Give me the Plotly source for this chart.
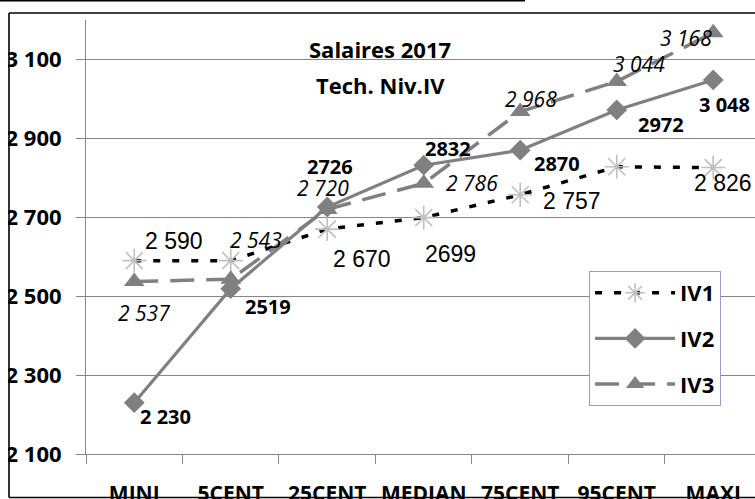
import plotly.graph_objects as go

categories = ["MINI", "5CENT", "25CENT", "MEDIAN", "75CENT", "95CENT", "MAXI"]
iv1 = [2590, 2590, 2670, 2699, 2757, 2828, 2826]
iv2 = [2230, 2519, 2726, 2832, 2870, 2972, 3048]
iv3 = [2537, 2543, 2720, 2786, 2968, 3044, 3168]

iv1_labels = ["2 590", None, "2 670", "2699", "2 757", None, "2 826"]
iv2_labels = ["2 230", "2519", "2726", "2832", "2870", "2972", "3 048"]
iv3_labels = ["2 537", "2 543", "2 720", "2 786", "2 968", "3 044", "3 168"]

# label offsets in pixels (dx, dy with dy positive downward)
iv1_off = [(40, -20), (0, 0), (35, 30), (27, 36), (52, 6), (0, 0), (10, 15)]
iv2_off = [(31, 14), (37, 18), (3, -41), (24, -17), (37, 13), (44, 15), (11, 25)]
iv3_off = [(10, 31), (25, -39), (-4, -21), (48, 0), (11, -13), (22, -18), (-27, 5)]

y_tickvals = [2100, 2300, 2500, 2700, 2900, 3100]
y_ticktext = ["2 100", "2 300", "2 500", "2 700", "2 900", "3 100"]

title_lines = ["Salaires 2017", "Tech. Niv.IV"]

GRAY = "#808080"
GRID = "#868686"

fig = go.Figure()
fig.add_trace(go.Scatter(
    x=categories, y=iv1, name="IV1", mode="lines+markers", legendgroup="a",
    line=dict(color="black", width=3.5, dash="7px,12px"),
    marker=dict(symbol="asterisk-open", size=20, color="#BFBFBF",
                line=dict(color="#BFBFBF", width=1.6)),
))
fig.add_trace(go.Scatter(
    x=categories, y=iv2, name="IV2", mode="lines+markers", legendgroup="b",
    line=dict(color=GRAY, width=3.2),
    marker=dict(symbol="diamond", size=16, color=GRAY),
))
fig.add_trace(go.Scatter(
    x=categories, y=iv3, name="IV3", mode="lines+markers", legendgroup="c",
    line=dict(color=GRAY, width=3.5, dash="24px,12px"),
    marker=dict(symbol="triangle-up", size=18, color=GRAY),
))

annotations = []
specs = [
    (iv1, iv1_labels, iv1_off, dict(family="Liberation Sans", size=23, color="black")),
    (iv2, iv2_labels, iv2_off, dict(family="Open Sans", size=20, color="black", weight="bold")),
    (iv3, iv3_labels, iv3_off, dict(family="Open Sans", size=21, color="black", style="italic")),
]
for vals, labels, offs, font in specs:
    for c, v, lab, (dx, dy) in zip(categories, vals, labels, offs):
        if lab is None:
            continue
        annotations.append(dict(
            x=c, y=v, xref="x", yref="y", text=lab, showarrow=False,
            xshift=dx, yshift=-dy, font=font, xanchor="center", yanchor="middle",
        ))

title_font = dict(family="Open Sans", size=22, color="black", weight="bold")
annotations.append(dict(x=0.4395, y=0.933, xref="paper", yref="paper", text=title_lines[0],
                        showarrow=False, font=title_font, xanchor="center", yanchor="middle"))
annotations.append(dict(x=0.4395, y=0.851, xref="paper", yref="paper", text=title_lines[1],
                        showarrow=False, font=title_font, xanchor="center", yanchor="middle"))


def pline(x0, x1, y0, y1, width=1.6):
    return dict(type="line", xref="paper", yref="paper", xsizemode="pixel", ysizemode="pixel",
                xanchor=0, yanchor=0, x0=x0, x1=x1, y0=y0, y1=y1,
                line=dict(color="black", width=width), layer="above")


shapes = [
    # cover left of border
    dict(type="rect", xref="paper", yref="paper", xsizemode="pixel", ysizemode="pixel",
         xanchor=0, yanchor=0, x0=-90, x1=-77.8, y0=-50, y1=460,
         line=dict(width=0), fillcolor="white", layer="above"),
    # outer chart border
    pline(-77, -77, -43.5, 441),
    pline(-77, 700, 441, 441),
    pline(-77, 700, -43.5, -43.5),
    # top black line
    pline(-90, 439, 453.5, 453.5, width=2),
]

fig.update_layout(
    width=755, height=499,
    margin=dict(l=86, r=0, t=20, b=45, autoexpand=False),
    paper_bgcolor="white", plot_bgcolor="white",
    showlegend=True,
    legend=dict(
        x=0.752, y=0.4217, xanchor="left", yanchor="top",
        bgcolor="white", bordercolor="#9A9ACB", borderwidth=1,
        font=dict(family="Open Sans", size=22, color="black", weight="bold"),
        tracegroupgap=14, itemwidth=80,
    ),
    annotations=annotations,
    shapes=shapes,
    hovermode=False,
    xaxis=dict(
        type="category", categoryorder="array", categoryarray=categories,
        range=[-0.5, 6.433], showgrid=False, zeroline=False, automargin=False,
        showline=True, linecolor=GRID, linewidth=1,
        ticks="outside", ticklen=9, tickcolor=GRID, tickson="boundaries",
        tickfont=dict(family="Open Sans", size=21, color="black", weight="bold"),
        ticklabelstandoff=21,
    ),
    yaxis=dict(
        range=[2100, 3200], tickvals=y_tickvals, ticktext=y_ticktext,
        showgrid=True, gridcolor=GRID, gridwidth=1, zeroline=False, automargin=False,
        showline=True, linecolor=GRID, linewidth=1,
        ticks="outside", ticklen=9, tickcolor=GRID,
        tickfont=dict(family="Open Sans", size=22, color="black", weight="bold"),
        ticklabelstandoff=10,
    ),
)

fig.write_html(
    "out.html",
    config={"displayModeBar": False},
    post_script="document.body.style.margin='0';document.body.style.padding='0';"
                "document.body.style.overflow='hidden';",
)
